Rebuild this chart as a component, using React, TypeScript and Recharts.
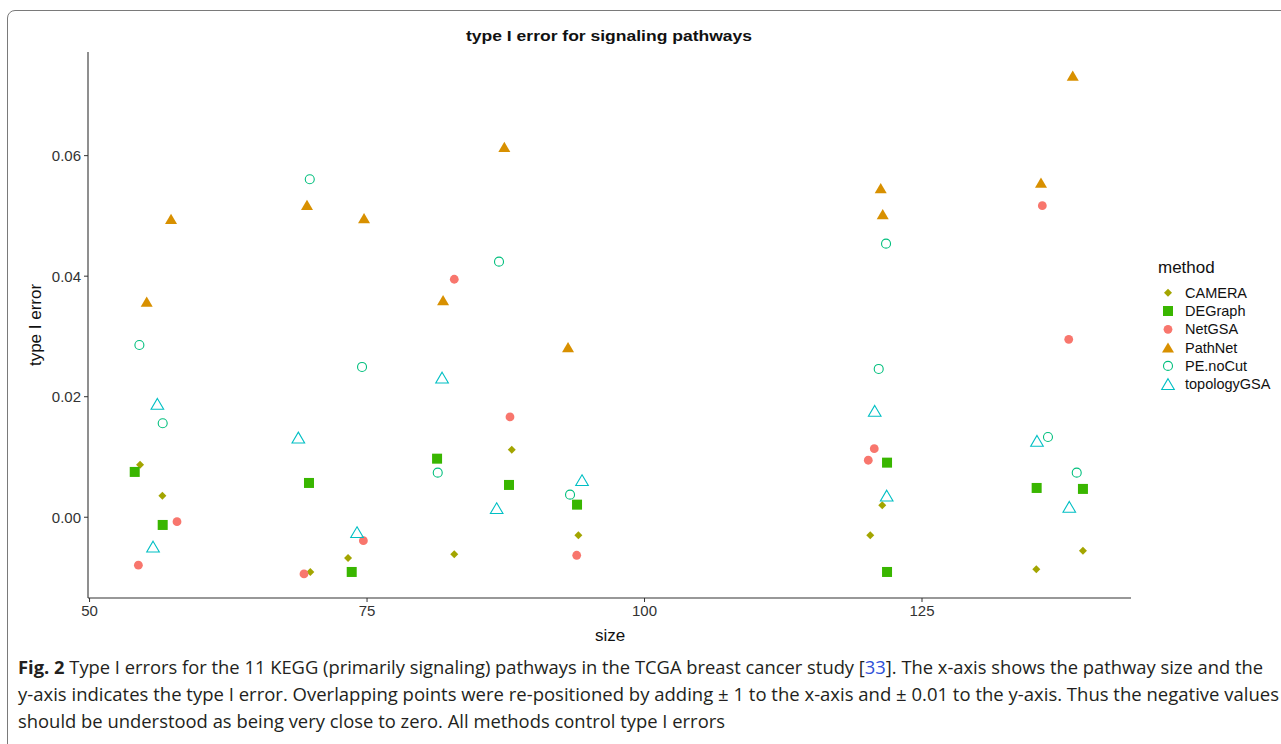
import React from 'react'
import { ScatterChart, Scatter, XAxis, YAxis } from 'recharts'

// values (pathway size, type I error)
const cameraSize = [54.55, 56.56, 69.89, 73.29, 82.86, 88.04, 94.04, 120.34, 121.42, 135.3, 139.5]
const cameraErr = [0.00873, 0.00358, -0.00908, -0.00675, -0.00614, 0.01122, -0.00299, -0.00299, 0.00199, -0.00863, -0.00554]

const degraphSize = [54.07, 56.59, 69.77, 73.62, 81.31, 87.79, 93.92, 121.85, 121.85, 135.33, 139.5]
const degraphErr = [0.00752, -0.00128, 0.00569, -0.00908, 0.00972, 0.00536, 0.00209, 0.00906, -0.00908, 0.00486, 0.0047]

const netgsaSize = [54.4, 57.88, 69.32, 74.67, 82.86, 87.88, 93.89, 120.16, 120.7, 138.22, 135.84]
const netgsaErr = [-0.00796, -0.00073, -0.00941, -0.00388, 0.03949, 0.01664, -0.00631, 0.00946, 0.01138, 0.02953, 0.0517]

const pathnetSize = [55.15, 57.34, 69.59, 74.73, 87.37, 81.85, 93.11, 138.58, 135.72, 121.28, 121.46]
const pathnetErr = [0.03577, 0.04949, 0.05182, 0.04961, 0.06144, 0.036, 0.02821, 0.07327, 0.05552, 0.05459, 0.05027]

const penocutSize = [54.49, 69.84, 56.59, 74.55, 86.89, 81.37, 93.29, 121.76, 121.1, 136.35, 138.94]
const penocutErr = [0.02859, 0.05608, 0.0156, 0.02494, 0.04241, 0.0074, 0.00375, 0.0454, 0.02461, 0.01332, 0.0074]

const topoSize = [56.11, 55.72, 68.81, 74.1, 81.76, 86.68, 94.37, 120.74, 121.82, 135.36, 138.27]
const topoErr = [0.0188, -0.00488, 0.01321, -0.00249, 0.02316, 0.00149, 0.00614, 0.01764, 0.00358, 0.01266, 0.00171]

const xTicks = [50, 75, 100, 125]
const yTicks = [0, 0.02, 0.04, 0.06]

const toPoints = (xs: number[], ys: number[]) => xs.map((x, i) => ({ x, y: ys[i] }))

type Kind = 'diamond' | 'square' | 'dot' | 'tri' | 'ring' | 'otri'

const series: { name: string; color: string; kind: Kind; data: { x: number; y: number }[] }[] = [
  { name: 'CAMERA', color: '#A3A500', kind: 'diamond', data: toPoints(cameraSize, cameraErr) },
  { name: 'DEGraph', color: '#39B600', kind: 'square', data: toPoints(degraphSize, degraphErr) },
  { name: 'NetGSA', color: '#F8766D', kind: 'dot', data: toPoints(netgsaSize, netgsaErr) },
  { name: 'PathNet', color: '#D89000', kind: 'tri', data: toPoints(pathnetSize, pathnetErr) },
  { name: 'PE.noCut', color: '#00BF7D', kind: 'ring', data: toPoints(penocutSize, penocutErr) },
  { name: 'topologyGSA', color: '#00BFC4', kind: 'otri', data: toPoints(topoSize, topoErr) },
]

function Marker({ kind, color, cx, cy }: { kind: Kind; color: string; cx: number; cy: number }) {
  switch (kind) {
    case 'diamond':
      return <polygon points={`${cx},${cy - 4} ${cx + 4},${cy} ${cx},${cy + 4} ${cx - 4},${cy}`} fill={color} />
    case 'square':
      return <rect x={cx - 5} y={cy - 5} width={10} height={10} fill={color} />
    case 'dot':
      return <circle cx={cx} cy={cy} r={4.4} fill={color} />
    case 'tri':
      return <polygon points={`${cx},${cy - 5.2} ${cx + 6},${cy + 5} ${cx - 6},${cy + 5}`} fill={color} />
    case 'ring':
      return <circle cx={cx} cy={cy} r={4.5} fill="none" stroke={color} strokeWidth={1.1} />
    default:
      return <polygon points={`${cx},${cy - 5.5} ${cx + 6.3},${cy + 5.3} ${cx - 6.3},${cy + 5.3}`} fill="none" stroke={color} strokeWidth={1.1} />
  }
}

const font = '"Liberation Sans", Arial, Helvetica, sans-serif'
const capFont = '"Open Sans", "Noto Sans", sans-serif'

export default function App() {
  return (
    <div style={{ position: 'fixed', left: 0, top: 0, width: 1281, height: 744, background: '#fff', overflow: 'hidden' }}>
      <div style={{
        position: 'absolute', left: 7, top: 10, width: 1300, height: 780,
        border: '1.5px solid #7a7a7a', borderRadius: 8
      }} />
      <div style={{ position: 'absolute', left: 0, top: 0 }}>
        <ScatterChart width={1281} height={650} margin={{ top: 52, right: 150, bottom: 22, left: 0 }}>
          <XAxis
            type="number" dataKey="x" domain={[49.86, 143.83]} ticks={xTicks} allowDataOverflow
            height={30} tickSize={4} tickMargin={3}
            axisLine={{ stroke: '#333', strokeWidth: 1.1 }} tickLine={{ stroke: '#333' }}
            tick={{ fill: '#333', fontSize: 15, fontFamily: font }}
          />
          <YAxis
            type="number" dataKey="y" domain={[-0.0134, 0.0772]} ticks={yTicks} allowDataOverflow
            width={88} tickSize={4} tickMargin={3} tickFormatter={(v: number) => v.toFixed(2)}
            axisLine={{ stroke: '#333', strokeWidth: 1.1 }} tickLine={{ stroke: '#333' }}
            tick={{ fill: '#333', fontSize: 15, fontFamily: font }}
          />
          {series.map(s => (
            <Scatter
              key={s.name} name={s.name} data={s.data} isAnimationActive={false}
              shape={(p: any) => <Marker kind={s.kind} color={s.color} cx={p.cx} cy={p.cy} />}
            />
          ))}
        </ScatterChart>
      </div>
      <svg width={1281} height={744} style={{ position: 'absolute', left: 0, top: 0, pointerEvents: 'none' }}>
        <text x={609} y={40.5} textAnchor="middle" fontFamily={font} fontWeight="bold" fontSize={15}
          textLength={286} lengthAdjust="spacingAndGlyphs" fill="#111">type I error for signaling pathways</text>
        <text transform="translate(41,325) rotate(-90)" textAnchor="middle" fontFamily={font} fontSize={17} fill="#111">type I error</text>
        <text x={610} y={640.5} textAnchor="middle" fontFamily={font} fontSize={17} fill="#111">size</text>

        <text x={1158} y={273} fontFamily={font} fontSize={17} fill="#111">method</text>
        {series.map((s, i) => {
          const cy = 292.7 + i * 18.3
          return (
            <g key={s.name}>
              <Marker kind={s.kind} color={s.color} cx={1168} cy={cy} />
              <text x={1185} y={cy + 5} fontFamily={font} fontSize={14.5} fill="#111">{s.name}</text>
            </g>
          )
        })}

        <text x={18} y={674} fontFamily={capFont} fontSize={18} fill="#231f20" textLength={1245} lengthAdjust="spacingAndGlyphs">
          <tspan fontWeight="bold">Fig. 2</tspan>
          <tspan> Type I errors for the 11 KEGG (primarily signaling) pathways in the TCGA breast cancer study [</tspan>
          <tspan fill="#2f4fd8">33</tspan>
          <tspan>]. The x-axis shows the pathway size and the</tspan>
        </text>
        <text x={18} y={701} fontFamily={capFont} fontSize={18} fill="#231f20" textLength={1261} lengthAdjust="spacingAndGlyphs">
          y-axis indicates the type I error. Overlapping points were re-positioned by adding ± 1 to the x-axis and ± 0.01 to the y-axis. Thus the negative values
        </text>
        <text x={18} y={728} fontFamily={capFont} fontSize={18} fill="#231f20" textLength={707} lengthAdjust="spacingAndGlyphs">
          should be understood as being very close to zero. All methods control type I errors
        </text>
      </svg>
    </div>
  )
}
